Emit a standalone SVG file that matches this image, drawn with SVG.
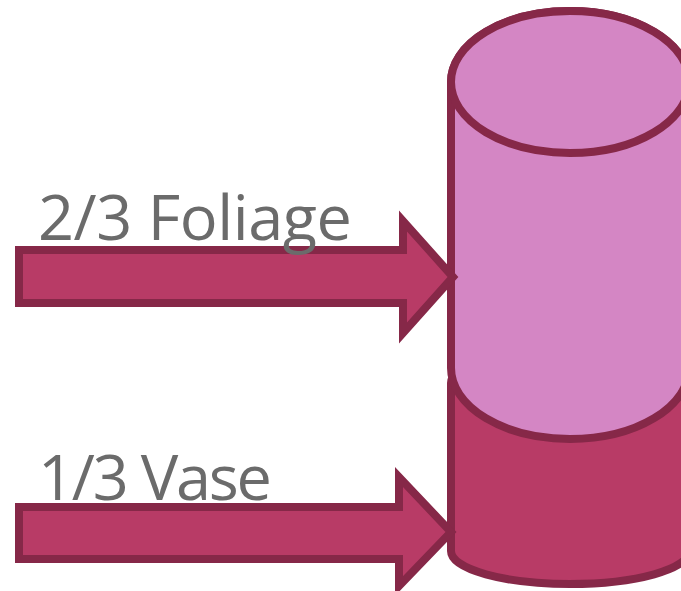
<svg xmlns="http://www.w3.org/2000/svg" width="681" height="591" viewBox="0 0 681 591">
<style>
.edge{stroke:#862848;stroke-width:8;stroke-linejoin:miter}
.top{fill:#D486C4}
.low{fill:#B83B66}
.lbl{font-family:"Open Sans","Liberation Sans",sans-serif;font-size:63px;fill:#6B6B6B}
</style>
<rect width="681" height="591" fill="#FFFFFF"/>
<g id="vase">
<path class="edge low" d="M451,383 L451,551 A119,33 0 0 0 689,551 L689,383 A119,33 0 0 0 451,383 Z"/>
</g>
<g id="foliage">
<path class="edge top" d="M451,82 L451,368 A119,71 0 0 0 689,368 L689,82 A119,71 0 0 0 451,82 Z"/>
<ellipse class="edge top" cx="570" cy="82" rx="119" ry="71"/>
</g>
<g id="connectors">
<path class="edge low" d="M19,250 L403,250 L403,221 L453,277 L403,333 L403,303 L19,303 Z"/>
<path class="edge low" d="M19,507 L399,507 L399,477 L451,532 L399,586 L399,559 L19,559 Z"/>
</g>
<g id="labels">
<text class="lbl" x="38" y="240" textLength="314">2/3 Foliage</text>
<text class="lbl" x="38" y="500" textLength="234">1/3 Vase</text>
</g>
</svg>
